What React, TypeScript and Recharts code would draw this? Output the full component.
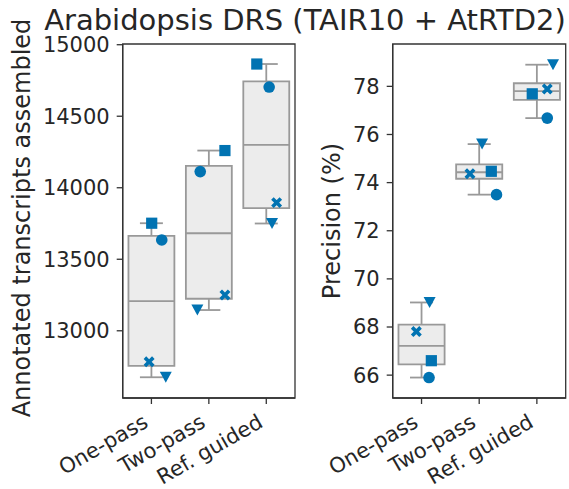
import React from "react";
import {
  ComposedChart,
  Scatter,
  XAxis,
  YAxis,
  ReferenceArea,
  ReferenceLine,
} from "recharts";

const categories = ["One-pass", "Two-pass", "Ref. guided"];

// transcripts assembled, one value per category for each run marker
const asmCircle = [13635, 14113, 14704];
const asmSquare = [13752, 14260, 14865];
const asmCross = [12783, 13250, 13896];
const asmTriangle = [12675, 13145, 13750];
// box summary
const asmQ1 = [12755, 13224, 13857];
const asmMedian = [13208, 13682, 14300];
const asmQ3 = [13663, 14153, 14743];
const asmLow = [12675, 13145, 13750];
const asmHigh = [13752, 14260, 14865];
const asmTicks = [13000, 13500, 14000, 14500, 15000];

// precision (%)
const precCircle = [65.9, 73.5, 76.68];
const precSquare = [66.6, 74.47, 77.69];
const precCross = [67.81, 74.37, 77.89];
const precTriangle = [69.02, 75.6, 78.9];
const precQ1 = [66.45, 74.16, 77.44];
const precMedian = [67.22, 74.43, 77.8];
const precQ3 = [68.1, 74.76, 78.13];
const precLow = [65.9, 73.5, 76.68];
const precHigh = [69.02, 75.6, 78.9];
const precTicks = [66, 68, 70, 72, 74, 76, 78];

// strip-plot jitter (in category units)
const asmJitter = {
  circle: [0.18, -0.15, 0.05],
  square: [0.005, 0.28, -0.165],
  cross: [-0.04, 0.28, 0.18],
  triangle: [0.25, -0.2, 0.1],
};
const precJitter = {
  circle: [0.13, 0.3, 0.18],
  square: [0.17, 0.21, -0.08],
  cross: [-0.09, -0.16, 0.18],
  triangle: [0.14, 0.05, 0.28],
};

const BLUE = "#0173b2";
const BOX_FILL = "#ececec";
const BOX_LINE = "#999999";
const AXIS = "#333333";
const TEXT = "#262626";
const FONT = "DejaVu Sans";

const CircleMark = (p: any) => <circle cx={p.cx} cy={p.cy} r={5.8} fill={BLUE} />;
const SquareMark = (p: any) => (
  <rect x={p.cx - 5.6} y={p.cy - 5.6} width={11.2} height={11.2} fill={BLUE} />
);
const TriangleMark = (p: any) => (
  <polygon
    points={`${p.cx - 6},${p.cy - 5.5} ${p.cx + 6},${p.cy - 5.5} ${p.cx},${p.cy + 5.5}`}
    fill={BLUE}
  />
);
const CrossMark = (p: any) => (
  <path
    d={`M${p.cx - 4.2},${p.cy - 4.2}L${p.cx + 4.2},${p.cy + 4.2}M${p.cx - 4.2},${p.cy + 4.2}L${p.cx + 4.2},${p.cy - 4.2}`}
    stroke={BLUE}
    strokeWidth={3.6}
  />
);

const XTick = (props: any) => {
  const { x, y, payload } = props;
  return (
    <g transform={`translate(${x - 2},${y + 20})`}>
      <text
        x={0}
        y={0}
        textAnchor="end"
        transform="rotate(-30)"
        fill={TEXT}
        fontSize={21}
        fontFamily={FONT}
      >
        {categories[payload.value]}
      </text>
    </g>
  );
};

const points = (vals: number[], jit: number[]) =>
  vals.map((v, i) => ({ x: i + jit[i], y: v }));

type PanelProps = {
  width: number;
  yAxisWidth: number;
  marginRight: number;
  domain: [number, number];
  ticks: number[];
  q1: number[];
  median: number[];
  q3: number[];
  low: number[];
  high: number[];
  circle: number[];
  square: number[];
  cross: number[];
  triangle: number[];
  jitter: typeof asmJitter;
};

const Panel: React.FC<PanelProps> = (p) => (
  <ComposedChart
    width={p.width}
    height={489}
    margin={{ top: 44, right: p.marginRight, left: 0, bottom: 0 }}
  >
    <XAxis
      type="number"
      dataKey="x"
      domain={[-0.5, 2.5]}
      ticks={[0, 1, 2]}
      interval={0}
      allowDataOverflow
      height={91}
      tickSize={6}
      tickLine={{ stroke: AXIS, strokeWidth: 1.3 }}
      axisLine={{ stroke: AXIS, strokeWidth: 1.3 }}
      tick={<XTick />}
    />
    <YAxis
      type="number"
      dataKey="y"
      domain={p.domain}
      ticks={p.ticks}
      interval={0}
      allowDataOverflow
      width={p.yAxisWidth}
      tickSize={6}
      tickMargin={7}
      tickLine={{ stroke: AXIS, strokeWidth: 1.3 }}
      axisLine={{ stroke: AXIS, strokeWidth: 1.3 }}
      tick={{ fill: TEXT, fontSize: 21, fontFamily: FONT }}
    />
    <ReferenceArea
      x1={-0.5}
      x2={2.5}
      y1={p.domain[0]}
      y2={p.domain[1]}
      fill="none"
      stroke={AXIS}
      strokeWidth={1.3}
      ifOverflow="visible"
    />
    {categories.map((_, i) => (
      <ReferenceArea
        key={`box-${i}`}
        x1={i - 0.4}
        x2={i + 0.4}
        y1={p.q1[i]}
        y2={p.q3[i]}
        fill={BOX_FILL}
        fillOpacity={1}
        stroke={BOX_LINE}
        strokeWidth={1.8}
        ifOverflow="visible"
      />
    ))}
    {categories.map((_, i) => (
      <ReferenceLine
        key={`med-${i}`}
        segment={[
          { x: i - 0.4, y: p.median[i] },
          { x: i + 0.4, y: p.median[i] },
        ]}
        stroke={BOX_LINE}
        strokeWidth={1.8}
        ifOverflow="visible"
      />
    ))}
    {categories.map((_, i) => (
      <ReferenceLine
        key={`wh-${i}`}
        segment={[
          { x: i, y: p.q3[i] },
          { x: i, y: p.high[i] },
        ]}
        stroke={BOX_LINE}
        strokeWidth={1.8}
        ifOverflow="visible"
      />
    ))}
    {categories.map((_, i) => (
      <ReferenceLine
        key={`wl-${i}`}
        segment={[
          { x: i, y: p.low[i] },
          { x: i, y: p.q1[i] },
        ]}
        stroke={BOX_LINE}
        strokeWidth={1.8}
        ifOverflow="visible"
      />
    ))}
    {categories.map((_, i) => (
      <ReferenceLine
        key={`ch-${i}`}
        segment={[
          { x: i - 0.2, y: p.high[i] },
          { x: i + 0.2, y: p.high[i] },
        ]}
        stroke={BOX_LINE}
        strokeWidth={1.8}
        ifOverflow="visible"
      />
    ))}
    {categories.map((_, i) => (
      <ReferenceLine
        key={`cl-${i}`}
        segment={[
          { x: i - 0.2, y: p.low[i] },
          { x: i + 0.2, y: p.low[i] },
        ]}
        stroke={BOX_LINE}
        strokeWidth={1.8}
        ifOverflow="visible"
      />
    ))}
    <Scatter data={points(p.circle, p.jitter.circle)} shape={CircleMark} isAnimationActive={false} />
    <Scatter data={points(p.square, p.jitter.square)} shape={SquareMark} isAnimationActive={false} />
    <Scatter data={points(p.cross, p.jitter.cross)} shape={CrossMark} isAnimationActive={false} />
    <Scatter data={points(p.triangle, p.jitter.triangle)} shape={TriangleMark} isAnimationActive={false} />
  </ComposedChart>
);

export default function App() {
  return (
    <div
      style={{
        position: "absolute",
        left: 0,
        top: 0,
        width: 569,
        height: 489,
        background: "#ffffff",
        fontFamily: FONT,
      }}
    >
      <div style={{ position: "absolute", left: 0, top: 0 }}>
        <Panel
          width={300}
          yAxisWidth={122.7}
          marginRight={5}
          domain={[12530, 15005]}
          ticks={asmTicks}
          q1={asmQ1}
          median={asmMedian}
          q3={asmQ3}
          low={asmLow}
          high={asmHigh}
          circle={asmCircle}
          square={asmSquare}
          cross={asmCross}
          triangle={asmTriangle}
          jitter={asmJitter}
        />
      </div>
      <div style={{ position: "absolute", left: 300, top: 0 }}>
        <Panel
          width={269}
          yAxisWidth={92.7}
          marginRight={3.3}
          domain={[65.05, 79.76]}
          ticks={precTicks}
          q1={precQ1}
          median={precMedian}
          q3={precQ3}
          low={precLow}
          high={precHigh}
          circle={precCircle}
          square={precSquare}
          cross={precCross}
          triangle={precTriangle}
          jitter={precJitter}
        />
      </div>
      <svg
        width={569}
        height={489}
        style={{ position: "absolute", left: 0, top: 0, pointerEvents: "none" }}
      >
        <text x={305} y={30} textAnchor="middle" fontSize={29} fill={TEXT} fontFamily={FONT}>
          Arabidopsis DRS (TAIR10 + AtRTD2)
        </text>
        <text
          transform="translate(30,218) rotate(-90)"
          textAnchor="middle"
          fontSize={24}
          fill={TEXT}
          fontFamily={FONT}
        >
          Annotated transcripts assembled
        </text>
        <text
          transform="translate(340,221) rotate(-90)"
          textAnchor="middle"
          fontSize={24}
          fill={TEXT}
          fontFamily={FONT}
        >
          Precision (%)
        </text>
      </svg>
    </div>
  );
}
